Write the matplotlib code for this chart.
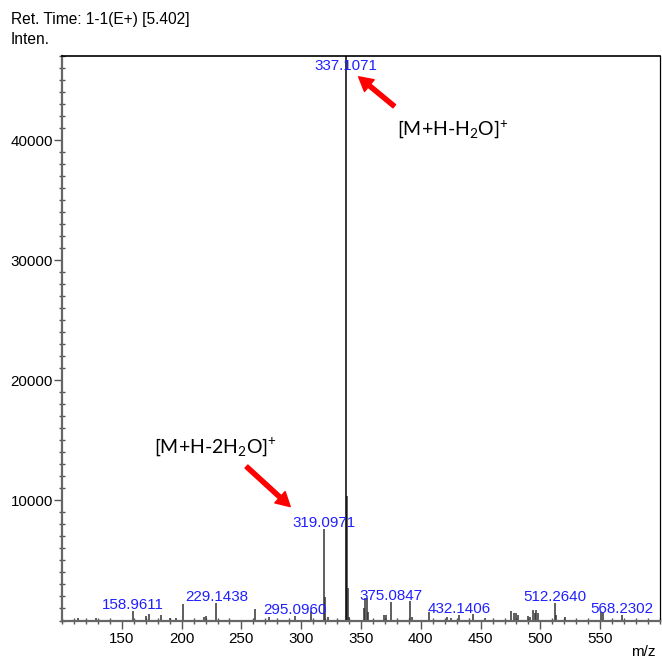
import matplotlib
matplotlib.use("Agg")
import matplotlib.pyplot as plt
from matplotlib.ticker import MultipleLocator, FixedLocator

plt.rcParams['font.family'] = ['Liberation Sans', 'DejaVu Sans']
plt.rcParams['mathtext.fontset'] = 'custom'
plt.rcParams['mathtext.rm'] = 'Lato'
plt.rcParams['mathtext.it'] = 'Lato:italic'

# spectrum peaks (m/z, intensity)
mz = [113.0, 128.5, 159.0, 170.3, 173.1, 182.8, 190.0, 195.5, 201.4, 218.9,
      220.3, 229.1438, 261.2, 273.1, 295.0960, 308.3, 319.0971, 320.1, 322.5,
      337.1071, 338.1, 339.1, 340.1, 352.6, 353.6, 354.6, 355.6, 368.8, 371.3,
      375.0847, 390.6, 392.5, 406.5, 421.5, 425.5, 432.1406, 443.9, 453.5,
      475.8, 477.9, 480.0, 481.5, 489.7, 491.2, 493.9, 495.3, 496.7, 498.1,
      512.2640, 513.3, 520.3, 550.8, 552.3, 568.2302]
inten = [200, 250, 790, 340, 540, 480, 250, 250, 1375, 330,
         400, 1480, 950, 330, 400, 780, 7600, 1980, 330,
         47000, 10375, 2730, 300, 1000, 1900, 1850, 700, 500, 500,
         1570, 1650, 300, 730, 300, 250, 460, 530, 250,
         815, 600, 640, 460, 400, 300, 850, 640, 850, 640,
         1430, 500, 330, 730, 600, 460]

# labelled peaks
label_mz = [158.9611, 229.1438, 295.0960, 319.0971, 375.0847, 432.1406,
            512.2640, 568.2302]
label_int = [790, 1480, 400, 7600, 1570, 460, 1430, 460]
base_peak = 337.1071

blue = '#1f1fff'

fig = plt.figure(figsize=(6.62, 6.64), dpi=100)
ax = fig.add_axes([0.0937, 0.0655, 0.9033, 0.8502])

others = [(m, i) for m, i in zip(mz, inten) if m != base_peak]
ax.vlines([m for m, _ in others], 0, [i for _, i in others], color='#333333', lw=1.1)
ax.vlines([base_peak], 0, [inten[mz.index(base_peak)]], color='black', lw=1.1)

ax.set_xlim(100, 600)
ax.set_ylim(0, 47000)

for m, i in zip(label_mz, label_int):
    ax.annotate(f"{m:.4f}", (m, i), xytext=(0, 1.5), textcoords='offset points',
                ha='center', va='baseline', color=blue, fontsize=10.9)
ax.annotate(f"{base_peak:.4f}", (base_peak, 47000), xytext=(0, -2.5),
            textcoords='offset points', ha='center', va='top', color=blue,
            fontsize=10.9)

arrow = dict(facecolor='red', edgecolor='red', width=3, headwidth=11,
             headlength=10, shrink=0)
ax.annotate("", xy=(348, 45267), xytext=(377.8, 42817), arrowprops=arrow)
ax.annotate("", xy=(290.8, 9483), xytext=(254.2, 12817), arrowprops=arrow)

for pos, txt in [((380.3, 40875), r"[M+H-H$_2$O]"),
                 ((176.9, 14458), r"[M+H-2H$_2$O]")]:
    t = ax.text(pos[0], pos[1], txt, fontsize=14, family='Lato',
                ha='left', va='center')
    ax.annotate("+", xy=(1, 0.78), xycoords=t, xytext=(-0.8, 0),
                textcoords='offset points', fontsize=9.5, family='Lato',
                ha='left', va='center')

# axes styling
ax.xaxis.set_major_locator(FixedLocator([150, 200, 250, 300, 350, 400, 450, 500, 550]))
ax.xaxis.set_minor_locator(MultipleLocator(10))
ax.yaxis.set_major_locator(FixedLocator([10000, 20000, 30000, 40000]))
ax.yaxis.set_minor_locator(MultipleLocator(1000))
ax.tick_params(axis='both', which='major', direction='out', length=6, width=1,
               color='#555555', labelsize=10.9)
ax.tick_params(axis='x', which='major', pad=2.5)
ax.tick_params(axis='y', which='major', pad=0.5)
ax.tick_params(axis='both', which='minor', direction='inout', length=4, width=1,
               color='#555555')
for s in ['left', 'bottom']:
    ax.spines[s].set_color('#666666')
    ax.spines[s].set_linewidth(1.6)
ax.spines['top'].set_linewidth(1.2)
ax.spines['right'].set_linewidth(0.9)

fig.text(0.0166, 0.97, "Ret. Time: 1-1(E+) [5.402]", fontsize=11.2, va='center')
fig.text(0.0166, 0.94, "Inten.", fontsize=11.2, va='center')
fig.text(0.971, 0.018, "m/z", fontsize=11, ha='center', va='center')

fig.savefig("out.png", dpi=100)
